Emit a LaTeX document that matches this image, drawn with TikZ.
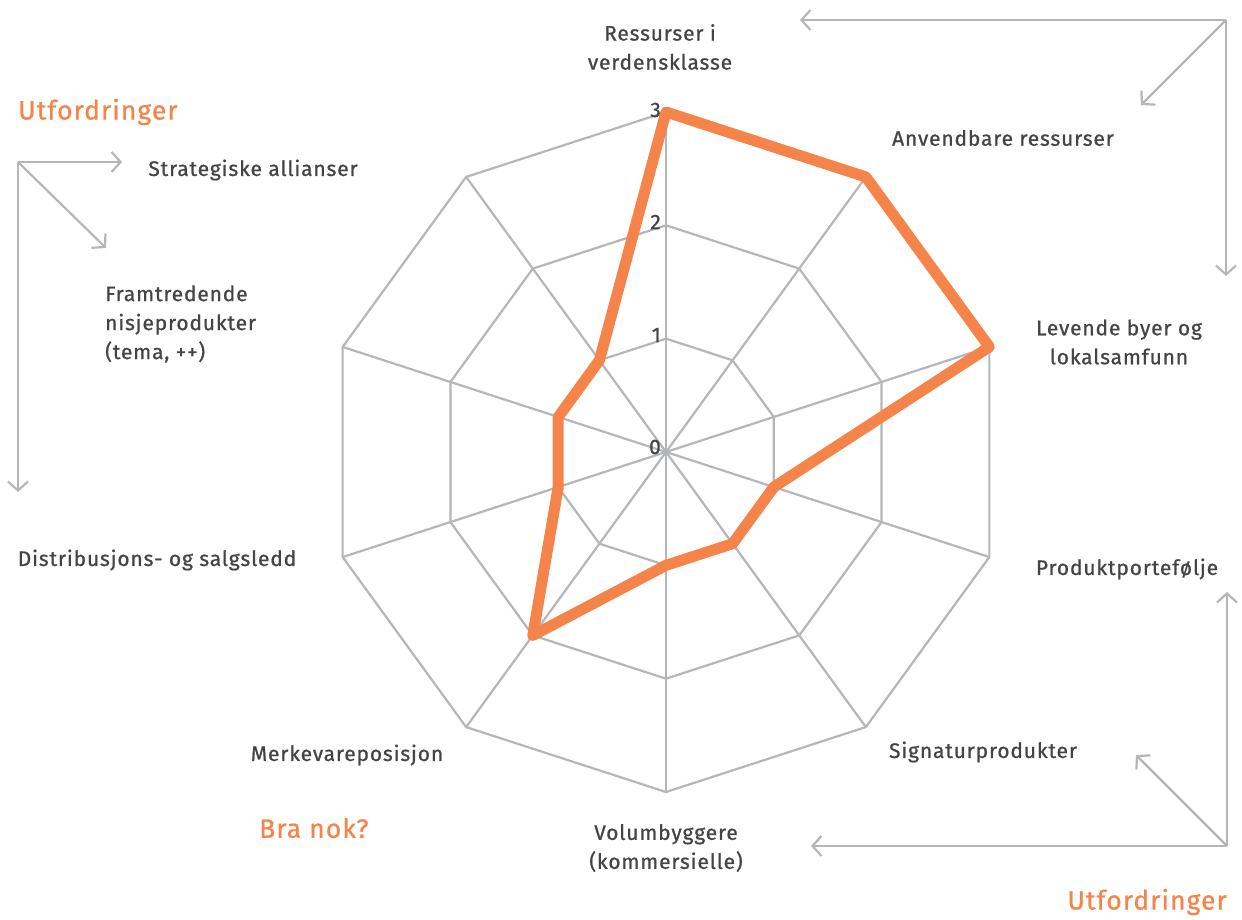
\documentclass[tikz,border=0pt]{standalone}
\usepackage{fontspec}
\setmainfont{Fira Sans}
\newfontfamily\labfont{Fira Sans}[FakeBold=0.8, LetterSpace=4]
\usetikzlibrary{arrows.meta}
\definecolor{og}{HTML}{F4844A}
\definecolor{gr}{HTML}{B4B6B9}
\definecolor{tx}{HTML}{444446}
\tikzset{
  grid/.style={draw=gr, line width=2.2pt},
  data/.style={draw=og, line width=11pt, line join=round},
  lab/.style={text=tx, font=\labfont\fontsize{21}{29}\selectfont, align=center, inner sep=0pt},
  num/.style={text=tx, font=\labfont\fontsize{21}{29}\selectfont, inner sep=0pt, anchor=east},
  hl/.style={text=og, font=\labfont\fontsize{26.5}{30}\selectfont, inner sep=0pt},
  arr/.style={draw=gr, line width=2.2pt, -{Straight Barb[length=9pt,width=20pt,line width=2.2pt]}}
}
\begin{document}
\begin{tikzpicture}[x=1pt,y=-1pt]
\useasboundingbox (0,0) rectangle (1242,920);
\coordinate (c) at (666,452);
\foreach \i/\v in {0/3,1/3,2/3,3/1,4/1,5/1,6/2,7/1,8/1,9/1} {
  \pgfmathsetmacro\a{90-36*\i}
  \coordinate (o\i) at ({666+340*cos(\a)},{452-340*sin(\a)});
  \coordinate (m\i) at ({666+226.67*cos(\a)},{452-226.67*sin(\a)});
  \coordinate (n\i) at ({666+113.33*cos(\a)},{452-113.33*sin(\a)});
  \coordinate (d\i) at ({666+113.33*\v*cos(\a)},{452-113.33*\v*sin(\a)});
}
% spokes
\foreach \i in {0,...,9} { \draw[grid] (c) -- (o\i); }
% rings
\draw[grid, line join=round] (o0) -- (o1) -- (o2) -- (o3) -- (o4) -- (o5) -- (o6) -- (o7) -- (o8) -- (o9) -- cycle;
\draw[grid, line join=round] (m0) -- (m1) -- (m2) -- (m3) -- (m4) -- (m5) -- (m6) -- (m7) -- (m8) -- (m9) -- cycle;
\draw[grid, line join=round] (n0) -- (n1) -- (n2) -- (n3) -- (n4) -- (n5) -- (n6) -- (n7) -- (n8) -- (n9) -- cycle;
% data
\draw[data] (d0) -- (d1) -- (d2) -- (d3) -- (d4) -- (d5) -- (d6) -- (d7) -- (d8) -- (d9) -- cycle;
% scale numbers
\node[num] (s3) at (661,110) {3};
\node[num] (s2) at (661,222) {2};
\node[num] (s1) at (661,335) {1};
\node[num] (s0) at (661,447) {0};
% axis labels
\node[lab] (l0) at (660,47) {Ressurser i\\verdensklasse};
\node[lab] (l1) at (1003,138) {Anvendbare ressurser};
\node[lab] (l2) at (1119,342) {Levende byer og\\lokalsamfunn};
\node[lab] (l3) at (1127,569) {Produktportefølje};
\node[lab] (l4) at (983,752) {Signaturprodukter};
\node[lab] (l5) at (666,848) {Volumbyggere\\(kommersielle)};
\node[lab] (l6) at (347,755) {Merkevareposisjon};
\node[lab] (l7) at (157,560) {Distribusjons- og salgsledd};
\node[lab, align=left, anchor=west] (l8) at (105,324) {Framtredende\\nisjeprodukter\\(tema, ++)};
\node[lab] (l9) at (253,170) {Strategiske allianser};
% headings
\node[hl, anchor=west] (h1) at (18,112) {Utfordringer};
\node[hl, anchor=west] (h2) at (259,828) {Bra nok?};
\node[hl, anchor=east] (h3) at (1227,902) {Utfordringer};
% arrow groups
\coordinate (tr) at (1226,20);
\coordinate (trL) at (800,20);
\coordinate (trD) at (1141,105);
\coordinate (trB) at (1226,276);
\draw[arr] (tr) -- (trL);
\draw[arr] (tr) -- (trD);
\draw[arr] (tr) -- (trB);
\coordinate (tl) at (18,162);
\coordinate (tlR) at (122,162);
\coordinate (tlD) at (106,248);
\coordinate (tlB) at (18,492);
\draw[arr] (tl) -- (tlR);
\draw[arr] (tl) -- (tlD);
\draw[arr] (tl) -- (tlB);
\coordinate (br) at (1227,846);
\coordinate (brU) at (1227,592);
\coordinate (brL) at (811,846);
\coordinate (brD) at (1136,755);
\draw[arr] (br) -- (brU);
\draw[arr] (br) -- (brL);
\draw[arr] (br) -- (brD);
\end{tikzpicture}
\end{document}
